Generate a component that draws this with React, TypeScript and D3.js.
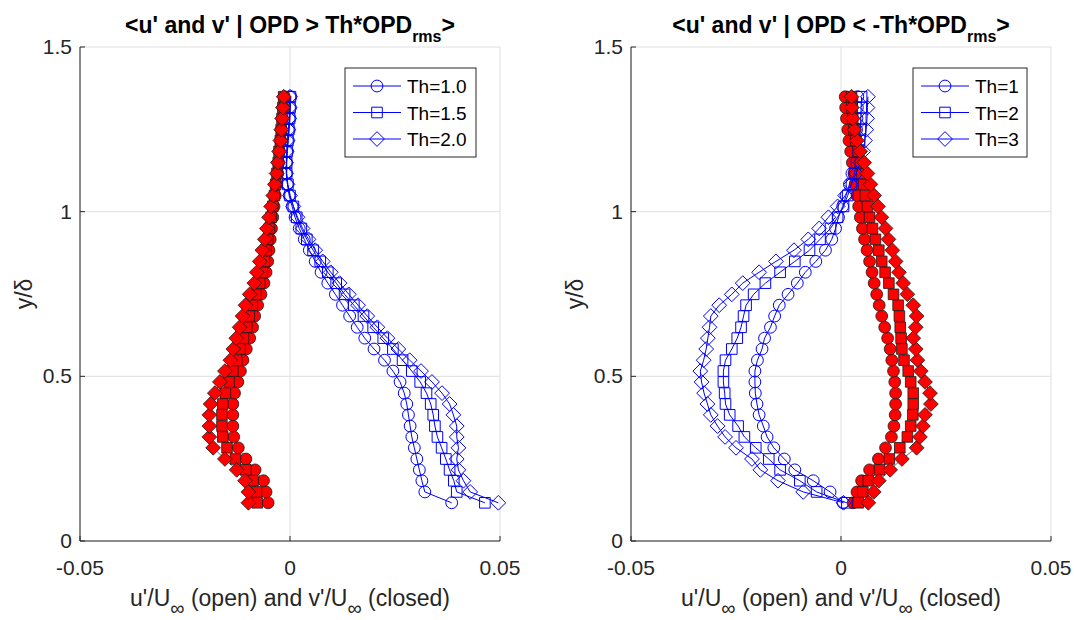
import React from 'react';
import * as d3 from 'd3';

// y/delta positions (shared by all profiles)
const Y_DELTA = [0.116, 0.149, 0.183, 0.216, 0.249, 0.283, 0.316, 0.349, 0.383, 0.416,
  0.449, 0.483, 0.516, 0.549, 0.583, 0.616, 0.649, 0.683, 0.716, 0.749,
  0.783, 0.816, 0.849, 0.883, 0.916, 0.949, 0.983, 1.016, 1.049, 1.083,
  1.116, 1.149, 1.183, 1.216, 1.249, 1.283, 1.316, 1.349];

// Left panel: OPD > Th*OPDrms
const LEFT_LABELS = ['Th=1.0', 'Th=1.5', 'Th=2.0'];
const L_U_TH1 = [0.0385, 0.0321, 0.0314, 0.0308, 0.0302, 0.0296, 0.0290, 0.0286, 0.0282, 0.0278,
  0.0272, 0.0262, 0.0245, 0.0225, 0.0200, 0.0178, 0.0160, 0.0142, 0.0125, 0.0108,
  0.0090, 0.0074, 0.0060, 0.0046, 0.0034, 0.0022, 0.0012, 0.0005, -0.0002, -0.0006,
  -0.0008, -0.0008, -0.0006, -0.0004, -0.0002, 0.0000, 0.0001, 0.0002];
const L_U_TH2 = [0.0464, 0.0397, 0.0390, 0.0380, 0.0371, 0.0361, 0.0351, 0.0345, 0.0341, 0.0335,
  0.0325, 0.0310, 0.0290, 0.0268, 0.0245, 0.0222, 0.0198, 0.0175, 0.0152, 0.0130,
  0.0110, 0.0090, 0.0072, 0.0055, 0.0040, 0.0027, 0.0016, 0.0008, 0.0000, -0.0005,
  -0.0008, -0.0008, -0.0007, -0.0005, -0.0003, -0.0001, 0.0000, 0.0001];
const L_U_TH3 = [0.0496, 0.0429, 0.0413, 0.0401, 0.0397, 0.0401, 0.0397, 0.0397, 0.0389, 0.0380,
  0.0362, 0.0338, 0.0312, 0.0285, 0.0258, 0.0232, 0.0208, 0.0184, 0.0162, 0.0140,
  0.0118, 0.0097, 0.0078, 0.0060, 0.0044, 0.0030, 0.0018, 0.0008, 0.0000, -0.0006,
  -0.0009, -0.0009, -0.0008, -0.0006, -0.0004, -0.0002, -0.0001, 0.0000];
const L_V_TH1 = [-0.0052, -0.0057, -0.0063, -0.0083, -0.0105, -0.0123, -0.0134, -0.0136, -0.0136, -0.0136,
  -0.0132, -0.0124, -0.0118, -0.0112, -0.0104, -0.0096, -0.0089, -0.0084, -0.0077, -0.0069,
  -0.0062, -0.0057, -0.0053, -0.0050, -0.0047, -0.0044, -0.0041, -0.0038, -0.0035, -0.0032,
  -0.0029, -0.0027, -0.0025, -0.0022, -0.0020, -0.0018, -0.0016, -0.0014];
const L_V_TH2 = [-0.0078, -0.0080, -0.0088, -0.0105, -0.0130, -0.0150, -0.0160, -0.0162, -0.0162, -0.0160,
  -0.0154, -0.0145, -0.0136, -0.0127, -0.0119, -0.0111, -0.0103, -0.0097, -0.0090, -0.0081,
  -0.0072, -0.0066, -0.0061, -0.0057, -0.0053, -0.0049, -0.0045, -0.0041, -0.0037, -0.0034,
  -0.0031, -0.0028, -0.0026, -0.0023, -0.0021, -0.0019, -0.0017, -0.0015];
const L_V_TH3 = [-0.0099, -0.0099, -0.0107, -0.0127, -0.0155, -0.0183, -0.0192, -0.0192, -0.0192, -0.0189,
  -0.0179, -0.0167, -0.0155, -0.0142, -0.0135, -0.0128, -0.0120, -0.0113, -0.0106, -0.0096,
  -0.0085, -0.0079, -0.0072, -0.0066, -0.0060, -0.0055, -0.0050, -0.0045, -0.0040, -0.0036,
  -0.0032, -0.0029, -0.0026, -0.0023, -0.0021, -0.0019, -0.0017, -0.0015];

// Right panel: OPD < -Th*OPDrms
const RIGHT_LABELS = ['Th=1', 'Th=2', 'Th=3'];
const R_U_TH1 = [0.0005, -0.0026, -0.0066, -0.0110, -0.0135, -0.0160, -0.0176, -0.0185, -0.0195, -0.0200,
  -0.0204, -0.0205, -0.0205, -0.0199, -0.0188, -0.0182, -0.0168, -0.0158, -0.0147, -0.0126,
  -0.0104, -0.0085, -0.0060, -0.0037, -0.0022, -0.0013, -0.0006, 0.0004, 0.0012, 0.0020,
  0.0026, 0.0030, 0.0033, 0.0035, 0.0037, 0.0038, 0.0039, 0.0040];
const R_U_TH2 = [0.0014, -0.0058, -0.0098, -0.0145, -0.0172, -0.0203, -0.0230, -0.0245, -0.0265, -0.0275,
  -0.0277, -0.0280, -0.0280, -0.0275, -0.0260, -0.0247, -0.0238, -0.0232, -0.0226, -0.0208,
  -0.0180, -0.0145, -0.0110, -0.0075, -0.0050, -0.0025, -0.0008, 0.0006, 0.0016, 0.0025,
  0.0032, 0.0037, 0.0041, 0.0044, 0.0046, 0.0047, 0.0048, 0.0049];
const R_U_TH3 = [0.0006, -0.0090, -0.0150, -0.0192, -0.0212, -0.0250, -0.0276, -0.0294, -0.0310, -0.0318,
  -0.0326, -0.0332, -0.0335, -0.0327, -0.0321, -0.0317, -0.0313, -0.0310, -0.0290, -0.0260,
  -0.0234, -0.0195, -0.0155, -0.0112, -0.0078, -0.0052, -0.0030, -0.0008, 0.0010, 0.0024,
  0.0036, 0.0046, 0.0053, 0.0057, 0.0060, 0.0062, 0.0063, 0.0064];
const R_V_TH1 = [0.0029, 0.0038, 0.0049, 0.0068, 0.0089, 0.0106, 0.0120, 0.0126, 0.0129, 0.0130,
  0.0130, 0.0128, 0.0125, 0.0121, 0.0117, 0.0111, 0.0104, 0.0097, 0.0091, 0.0085,
  0.0079, 0.0074, 0.0068, 0.0062, 0.0056, 0.0051, 0.0046, 0.0042, 0.0038, 0.0034,
  0.0031, 0.0027, 0.0023, 0.0019, 0.0016, 0.0013, 0.0011, 0.0010];
const R_V_TH2 = [0.0041, 0.0052, 0.0065, 0.0092, 0.0115, 0.0140, 0.0158, 0.0166, 0.0171, 0.0172,
  0.0172, 0.0166, 0.0160, 0.0150, 0.0145, 0.0143, 0.0141, 0.0139, 0.0136, 0.0125,
  0.0114, 0.0105, 0.0097, 0.0090, 0.0082, 0.0075, 0.0068, 0.0063, 0.0058, 0.0054,
  0.0050, 0.0046, 0.0041, 0.0035, 0.0031, 0.0028, 0.0026, 0.0025];
const R_V_TH3 = [0.0065, 0.0078, 0.0090, 0.0117, 0.0145, 0.0180, 0.0188, 0.0195, 0.0200, 0.0214,
  0.0212, 0.0200, 0.0190, 0.0182, 0.0178, 0.0172, 0.0178, 0.0180, 0.0172, 0.0158,
  0.0148, 0.0138, 0.0130, 0.0122, 0.0113, 0.0106, 0.0096, 0.0088, 0.0079, 0.0070,
  0.0063, 0.0055, 0.0046, 0.0038, 0.0032, 0.0028, 0.0026, 0.0025];

const X_TICKS = [-0.05, 0, 0.05];
const Y_TICKS = [0, 0.5, 1, 1.5];
const SHAPES = ['circle', 'square', 'diamond'];

const FONT = '"Liberation Sans", Arial, Helvetica, sans-serif';
const AXIS_COLOR = '#262626';
const GRID_COLOR = '#dfdfdf';
const BLUE = '#0000ff';

function markerPath(shape: string, cx: number, cy: number, s: number): string {
  if (shape === 'circle') {
    return `M${cx - s},${cy}a${s},${s} 0 1,0 ${2 * s},0a${s},${s} 0 1,0 ${-2 * s},0Z`;
  }
  if (shape === 'square') {
    const h = s * 0.9;
    return `M${cx - h},${cy - h}L${cx + h},${cy - h}L${cx + h},${cy + h}L${cx - h},${cy + h}Z`;
  }
  const d = s * 1.25;
  return `M${cx},${cy - d}L${cx + d},${cy}L${cx},${cy + d}L${cx - d},${cy}Z`;
}

type PanelProps = {
  x0: number;
  titleMain: string;
  labels: string[];
  uSeries: number[][];
  vSeries: number[][];
  legendX: number;
  legendW: number;
};

function Panel({ x0, titleMain, labels, uSeries, vSeries, legendX, legendW }: PanelProps) {
  const W = 420;
  const top = 47;
  const bottom = 541;
  const x = d3.scaleLinear().domain([-0.05, 0.05]).range([x0, x0 + W]);
  const y = d3.scaleLinear().domain([0, 1.5]).range([bottom, top]);
  const line = d3.line<number>().x((d) => x(d)).y((_, i) => y(Y_DELTA[i]));
  const cx = x0 + W / 2;
  const ms = 5.9;

  const layers: React.ReactNode[] = [];
  for (let k = 0; k < 3; k++) {
    const u = uSeries[k];
    const v = vSeries[k];
    layers.push(
      <g key={'u' + k}>
        <path d={line(u) || ''} fill="none" stroke={BLUE} strokeWidth={1} />
        {u.map((val, i) => (
          <path key={i} d={markerPath(SHAPES[k], x(val), y(Y_DELTA[i]), ms)} fill="none" stroke={BLUE} strokeWidth={1} />
        ))}
      </g>
    );
    layers.push(
      <g key={'v' + k}>
        <path d={line(v) || ''} fill="none" stroke="#000" strokeWidth={0.6} />
        {v.map((val, i) => (
          <path key={i} d={markerPath(SHAPES[k], x(val), y(Y_DELTA[i]), ms)} fill="#ff0000" stroke="#1a1a1a" strokeWidth={0.8} />
        ))}
      </g>
    );
  }

  const legTop = 68;
  const legH = 89;
  const rowY = [86, 112.5, 139];

  return (
    <g>
      {/* grid */}
      {X_TICKS.map((t) => (
        <line key={'gx' + t} x1={x(t)} x2={x(t)} y1={top} y2={bottom} stroke={GRID_COLOR} strokeWidth={1} />
      ))}
      {Y_TICKS.map((t) => (
        <line key={'gy' + t} x1={x0} x2={x0 + W} y1={y(t)} y2={y(t)} stroke={GRID_COLOR} strokeWidth={1} />
      ))}
      {/* data */}
      {layers}
      {/* axes */}
      <line x1={x0} x2={x0} y1={top} y2={bottom} stroke={AXIS_COLOR} strokeWidth={1} />
      <line x1={x0} x2={x0 + W} y1={bottom} y2={bottom} stroke={AXIS_COLOR} strokeWidth={1} />
      {X_TICKS.map((t) => (
        <g key={'tx' + t}>
          <line x1={x(t)} x2={x(t)} y1={bottom} y2={bottom - 5} stroke={AXIS_COLOR} strokeWidth={1} />
          <text x={x(t)} y={575} textAnchor="middle" fontFamily={FONT} fontSize={21} fill={AXIS_COLOR}>
            {t === 0 ? '0' : String(t)}
          </text>
        </g>
      ))}
      {Y_TICKS.map((t) => (
        <g key={'ty' + t}>
          <line x1={x0} x2={x0 + 5} y1={y(t)} y2={y(t)} stroke={AXIS_COLOR} strokeWidth={1} />
          <text x={x0 - 8} y={y(t) + 7} textAnchor="end" fontFamily={FONT} fontSize={21} fill={AXIS_COLOR}>
            {String(t)}
          </text>
        </g>
      ))}
      {/* axis labels */}
      <text x={cx} y={606} textAnchor="middle" fontFamily={FONT} fontSize={23} fill={AXIS_COLOR}>
        <tspan>u'/U</tspan>
        <tspan dy={9} fontSize={20}>∞</tspan>
        <tspan dy={-9}> (open) and v'/U</tspan>
        <tspan dy={9} fontSize={20}>∞</tspan>
        <tspan dy={-9}> (closed)</tspan>
      </text>
      <text transform={`translate(${x0 - 48},${(top + bottom) / 2}) rotate(-90)`} textAnchor="middle"
        fontFamily={FONT} fontSize={23} fill={AXIS_COLOR}>
        y/δ
      </text>
      {/* title */}
      <text x={cx} y={33} textAnchor="middle" fontFamily={FONT} fontSize={23} fontWeight="bold" fill="#000">
        <tspan>{titleMain}</tspan>
        <tspan dy={9} fontSize={16}>rms</tspan>
        <tspan dy={-9}>&gt;</tspan>
      </text>
      {/* legend */}
      <rect x={legendX} y={legTop} width={legendW} height={legH} fill="#fff" stroke={AXIS_COLOR} strokeWidth={1} />
      {labels.map((lab, k) => (
        <g key={'leg' + k}>
          <line x1={legendX + 8} x2={legendX + 56} y1={rowY[k]} y2={rowY[k]} stroke={BLUE} strokeWidth={1} />
          <path d={markerPath(SHAPES[k], legendX + 32, rowY[k], ms)} fill="none" stroke={BLUE} strokeWidth={1} />
          <text x={legendX + 62} y={rowY[k] + 7} fontFamily={FONT} fontSize={19} fill="#000">
            {lab}
          </text>
        </g>
      ))}
    </g>
  );
}

export default function App() {
  return (
    <svg width={1074} height={620} style={{ position: 'absolute', left: 0, top: 0, background: '#fff' }}>
      <rect x={0} y={0} width={1074} height={620} fill="#fff" />
      <Panel
        x0={80}
        titleMain="<u' and v' | OPD > Th*OPD"
        labels={LEFT_LABELS}
        uSeries={[L_U_TH1, L_U_TH2, L_U_TH3]}
        vSeries={[L_V_TH1, L_V_TH2, L_V_TH3]}
        legendX={345}
        legendW={131}
      />
      <Panel
        x0={631}
        titleMain="<u' and v' | OPD < -Th*OPD"
        labels={RIGHT_LABELS}
        uSeries={[R_U_TH1, R_U_TH2, R_U_TH3]}
        vSeries={[R_V_TH1, R_V_TH2, R_V_TH3]}
        legendX={913}
        legendW={114}
      />
    </svg>
  );
}
